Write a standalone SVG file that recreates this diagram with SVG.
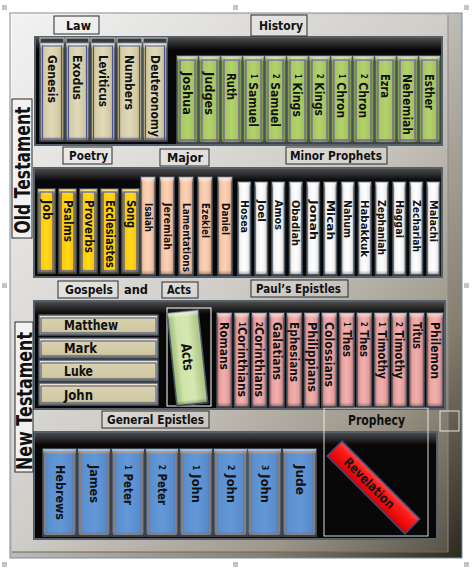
<svg xmlns="http://www.w3.org/2000/svg" width="475" height="571" viewBox="0 0 475 571">
<defs>
<linearGradient id="gFrame" x1="0" y1="0" x2="1" y2="1"><stop offset="0" stop-color="#fafafa"/><stop offset="0.45" stop-color="#c6c5c0"/><stop offset="0.78" stop-color="#867f70"/><stop offset="1" stop-color="#2c2920"/></linearGradient>
<linearGradient id="gPanel" x1="0" y1="0" x2="1" y2="1"><stop offset="0" stop-color="#f2f2f2"/><stop offset="0.5" stop-color="#cfcdc8"/><stop offset="0.8" stop-color="#9c9689"/><stop offset="1" stop-color="#5a5347"/></linearGradient>
<linearGradient id="gShelfTop" x1="0" y1="0" x2="0" y2="1"><stop offset="0" stop-color="#4a4a4a"/><stop offset="1" stop-color="#070707"/></linearGradient>
<linearGradient id="gTan" x1="0" y1="0" x2="1" y2="0"><stop offset="0" stop-color="#9d946f"/><stop offset="0.2" stop-color="#d6cea9"/><stop offset="0.5" stop-color="#e0d9b8"/><stop offset="0.8" stop-color="#d2c9a3"/><stop offset="1" stop-color="#9a906c"/></linearGradient>
<linearGradient id="gTanH" x1="0" y1="0" x2="0" y2="1"><stop offset="0" stop-color="#f2ebcc"/><stop offset="0.25" stop-color="#d8d0ac"/><stop offset="0.8" stop-color="#d0c8a2"/><stop offset="1" stop-color="#9a906c"/></linearGradient>
<linearGradient id="gGreen" x1="0" y1="0" x2="1" y2="0"><stop offset="0" stop-color="#6f8c38"/><stop offset="0.2" stop-color="#a6c85e"/><stop offset="0.5" stop-color="#b2d26c"/><stop offset="0.8" stop-color="#a3c45a"/><stop offset="1" stop-color="#6d8a36"/></linearGradient>
<linearGradient id="gYellow" x1="0" y1="0" x2="1" y2="0"><stop offset="0" stop-color="#b88a00"/><stop offset="0.2" stop-color="#ffcc00"/><stop offset="0.5" stop-color="#ffd820"/><stop offset="0.8" stop-color="#ffc800"/><stop offset="1" stop-color="#b08000"/></linearGradient>
<linearGradient id="gPeach" x1="0" y1="0" x2="1" y2="0"><stop offset="0" stop-color="#c89a80"/><stop offset="0.2" stop-color="#f6c6a6"/><stop offset="0.5" stop-color="#fbd2b6"/><stop offset="0.8" stop-color="#f4c2a2"/><stop offset="1" stop-color="#c09078"/></linearGradient>
<linearGradient id="gWhite" x1="0" y1="0" x2="1" y2="0"><stop offset="0" stop-color="#b8b8b8"/><stop offset="0.2" stop-color="#f4f4f4"/><stop offset="0.5" stop-color="#ffffff"/><stop offset="0.8" stop-color="#f0f0f0"/><stop offset="1" stop-color="#b0b0b0"/></linearGradient>
<linearGradient id="gPink" x1="0" y1="0" x2="1" y2="0"><stop offset="0" stop-color="#b06c6c"/><stop offset="0.2" stop-color="#e8a2a0"/><stop offset="0.5" stop-color="#f0b0ae"/><stop offset="0.8" stop-color="#e49c9a"/><stop offset="1" stop-color="#a86464"/></linearGradient>
<linearGradient id="gBlue" x1="0" y1="0" x2="1" y2="0"><stop offset="0" stop-color="#3d68a8"/><stop offset="0.15" stop-color="#5b90d0"/><stop offset="0.5" stop-color="#6398d8"/><stop offset="0.85" stop-color="#5a8ccc"/><stop offset="1" stop-color="#3c64a0"/></linearGradient>
<linearGradient id="gActs" x1="0" y1="0" x2="1" y2="0"><stop offset="0" stop-color="#9cb878"/><stop offset="0.25" stop-color="#cfe4a8"/><stop offset="0.6" stop-color="#d6e8b2"/><stop offset="1" stop-color="#a8c080"/></linearGradient>
<linearGradient id="gRed" x1="0" y1="0" x2="0" y2="1"><stop offset="0" stop-color="#ff4a4a"/><stop offset="0.3" stop-color="#ff1a1a"/><stop offset="1" stop-color="#d80000"/></linearGradient>
<linearGradient id="gOv" x1="0" y1="0" x2="0" y2="1"><stop offset="0" stop-color="#ffffff" stop-opacity="0.6"/><stop offset="0.06" stop-color="#ffffff" stop-opacity="0"/><stop offset="0.95" stop-color="#000000" stop-opacity="0"/><stop offset="1" stop-color="#000000" stop-opacity="0.35"/></linearGradient>
<style>
.t{font-family:"DejaVu Sans",Lato,sans-serif;font-weight:bold;fill:#111}
.c{text-anchor:middle;dominant-baseline:central}
.bt{text-anchor:start;dominant-baseline:central}
.lbl{fill:#ffffff;fill-opacity:0.18;stroke:#2a2a2a;stroke-width:1}
.shelf{fill:#070707;stroke:#56606a;stroke-width:2}
.bk{stroke:#4b5866;stroke-width:1.5}
.ov{fill:url(#gOv)}
.tan{fill:url(#gTan)}
.green{fill:url(#gGreen)}
.yel{fill:url(#gYellow)}
.peach{fill:url(#gPeach)}
.wht{fill:url(#gWhite)}
.pink{fill:url(#gPink)}
.blue{fill:url(#gBlue)}
.in{fill:none;stroke-width:1}
.inP{stroke:#6a40c8}
.inL{stroke:#50509a}
.inB{stroke:#2840d0}
.inO{stroke:#d0843a}
.tab{fill:#3a3a3a;stroke:#cfcfcf;stroke-width:1}
.hdl{fill:#c4c4c4}
</style>
</defs>

<g id="frame">
<rect x="10" y="13" width="452" height="545" fill="url(#gFrame)" stroke="#7f8da0" stroke-width="1"/>
<rect x="12" y="15" width="436" height="537" fill="url(#gPanel)"/>
<line x1="448" y1="15" x2="448" y2="552" stroke="#8a8880" stroke-width="1"/>
<line x1="12" y1="552" x2="448" y2="552" stroke="#6a665c" stroke-width="1"/>
</g>

<g id="handles">
<rect class="hdl" x="2" y="5" width="5" height="5"/><rect class="hdl" x="233" y="5" width="5" height="5"/><rect class="hdl" x="464" y="5" width="5" height="5"/>
<rect class="hdl" x="2" y="283" width="5" height="5"/><rect class="hdl" x="464" y="283" width="5" height="5"/>
<rect class="hdl" x="2" y="562" width="5" height="5"/><rect class="hdl" x="233" y="562" width="5" height="5"/><rect class="hdl" x="464" y="562" width="5" height="5"/>
</g>

<g id="shelves">
<rect class="shelf" x="35" y="37" width="407" height="108"/><rect x="36" y="38" width="405" height="12" fill="url(#gShelfTop)"/>
<rect class="shelf" x="34" y="168" width="408" height="109"/><rect x="35" y="169" width="406" height="12" fill="url(#gShelfTop)"/>
<rect class="shelf" x="34" y="301" width="411" height="108"/><rect x="35" y="302" width="409" height="12" fill="url(#gShelfTop)"/>
<rect class="shelf" x="34" y="432" width="403" height="107"/><rect x="35" y="433" width="401" height="12" fill="url(#gShelfTop)"/>
</g>

<g id="label-old-testament"><rect x="12" y="99" width="20" height="139" fill="#f2f2f2" stroke="#2a2a2a"/><text class="t c" transform="translate(23,170) rotate(-90)" font-size="21" textLength="127" lengthAdjust="spacingAndGlyphs">Old Testament</text></g>
<g id="label-new-testament"><rect x="15" y="322" width="18" height="150" fill="#f2f2f2" stroke="#2a2a2a"/><text class="t c" transform="translate(25,401) rotate(-90)" font-size="21" textLength="138" lengthAdjust="spacingAndGlyphs">New Testament</text></g>

<g id="label-law"><rect class="lbl" x="54" y="16" width="45" height="18"/><text class="t c" x="78.5" y="25" font-size="13" textLength="25" lengthAdjust="spacingAndGlyphs">Law</text></g>
<g id="label-history"><rect class="lbl" x="251" y="15" width="56" height="21"/><text class="t c" x="281" y="25.5" font-size="13" textLength="44" lengthAdjust="spacingAndGlyphs">History</text></g>
<g id="label-poetry"><rect class="lbl" x="63" y="147" width="49" height="17"/><text class="t c" x="88.5" y="155.5" font-size="13" textLength="39" lengthAdjust="spacingAndGlyphs">Poetry</text></g>
<g id="label-major"><rect class="lbl" x="160" y="149" width="49" height="17"/><text class="t c" x="185" y="157.5" font-size="13" textLength="36" lengthAdjust="spacingAndGlyphs">Major</text></g>
<g id="label-minor"><rect class="lbl" x="286" y="147" width="101" height="17"/><text class="t c" x="336" y="155.5" font-size="13" textLength="92" lengthAdjust="spacingAndGlyphs">Minor Prophets</text></g>
<g id="label-gospels"><rect class="lbl" x="58" y="281" width="60" height="17"/><text class="t c" x="89" y="289.5" font-size="13" textLength="48" lengthAdjust="spacingAndGlyphs">Gospels</text></g>
<g id="label-and"><text class="t c" x="136" y="289.5" font-size="13" textLength="24" lengthAdjust="spacingAndGlyphs">and</text></g>
<g id="label-acts"><rect class="lbl" x="162" y="282" width="36" height="16"/><text class="t c" x="179" y="289.5" font-size="13" textLength="24" lengthAdjust="spacingAndGlyphs">Acts</text></g>
<g id="label-pauls"><rect class="lbl" x="251" y="280" width="97" height="17"/><text class="t c" x="298.5" y="288.5" font-size="13" textLength="85" lengthAdjust="spacingAndGlyphs">Paul’s Epistles</text></g>
<g id="label-general"><rect class="lbl" x="102" y="411" width="107" height="17"/><text class="t c" x="155.5" y="419.5" font-size="13" textLength="97" lengthAdjust="spacingAndGlyphs">General Epistles</text></g>
<g id="label-prophecy"><rect x="324" y="408" width="104" height="128" fill="none" stroke="#f2f2f2" stroke-opacity="0.9" stroke-width="1"/><text class="t c" x="376.5" y="420" font-size="14" textLength="57" lengthAdjust="spacingAndGlyphs">Prophecy</text></g>
<g id="small-square"><rect x="440" y="411" width="19" height="20" fill="none" stroke="#e4e4e4" stroke-width="1"/></g>

<g id="law-books">
<g id="b-genesis"><rect class="tab" x="40" y="38" width="24" height="5"/><rect class="bk tan" x="40" y="43" width="24" height="98"/><rect class="ov" x="40" y="43" width="24" height="98"/><rect class="in inL" x="42.5" y="46" width="19" height="93"/><text class="t bt" transform="translate(52,55) rotate(90)" font-size="13" textLength="48" lengthAdjust="spacingAndGlyphs">Genesis</text></g>
<g id="b-exodus"><rect class="tab" x="66" y="38" width="23" height="5"/><rect class="bk tan" x="66" y="43" width="23" height="98"/><rect class="ov" x="66" y="43" width="23" height="98"/><rect class="in inL" x="68.5" y="46" width="18" height="93"/><text class="t bt" transform="translate(77.5,55) rotate(90)" font-size="13" textLength="45" lengthAdjust="spacingAndGlyphs">Exodus</text></g>
<g id="b-leviticus"><rect class="tab" x="91" y="38" width="24" height="5"/><rect class="bk tan" x="91" y="43" width="24" height="98"/><rect class="ov" x="91" y="43" width="24" height="98"/><rect class="in inL" x="93.5" y="46" width="19" height="93"/><text class="t bt" transform="translate(103,55) rotate(90)" font-size="13" textLength="52" lengthAdjust="spacingAndGlyphs">Leviticus</text></g>
<g id="b-numbers"><rect class="tab" x="117" y="38" width="25" height="5"/><rect class="bk tan" x="117" y="43" width="25" height="98"/><rect class="ov" x="117" y="43" width="25" height="98"/><rect class="in inL" x="119.5" y="46" width="20" height="93"/><text class="t bt" transform="translate(129.5,55) rotate(90)" font-size="13" textLength="55" lengthAdjust="spacingAndGlyphs">Numbers</text></g>
<g id="b-deuteronomy"><rect class="tab" x="143" y="38" width="24" height="5"/><rect class="bk tan" x="143" y="43" width="24" height="98"/><rect class="ov" x="143" y="43" width="24" height="98"/><rect class="in inL" x="145.5" y="46" width="19" height="93"/><text class="t bt" transform="translate(155,55) rotate(90)" font-size="13" textLength="82" lengthAdjust="spacingAndGlyphs">Deuteronomy</text></g>
</g>

<g id="history-books">
<g id="b-joshua"><rect class="bk green" x="177" y="56" width="21" height="87"/><rect class="ov" x="177" y="56" width="21" height="87"/><rect class="in inP" x="180" y="60" width="15" height="80"/><text class="t bt" transform="translate(187.5,72) rotate(90)" font-size="13" textLength="43" lengthAdjust="spacingAndGlyphs">Joshua</text></g>
<g id="b-judges"><rect class="bk green" x="199" y="56" width="21" height="87"/><rect class="ov" x="199" y="56" width="21" height="87"/><rect class="in inP" x="202" y="60" width="15" height="80"/><text class="t bt" transform="translate(209.5,72) rotate(90)" font-size="13" textLength="43" lengthAdjust="spacingAndGlyphs">Judges</text></g>
<g id="b-ruth"><rect class="bk green" x="221" y="56" width="21" height="87"/><rect class="ov" x="221" y="56" width="21" height="87"/><rect class="in inP" x="224" y="60" width="15" height="80"/><text class="t bt" transform="translate(231.5,73) rotate(90)" font-size="13" textLength="27" lengthAdjust="spacingAndGlyphs">Ruth</text></g>
<g id="b-1samuel"><rect class="bk green" x="243" y="56" width="21" height="87"/><rect class="ov" x="243" y="56" width="21" height="87"/><rect class="in inP" x="246" y="60" width="15" height="80"/><text class="t bt" transform="translate(253.5,74) rotate(90)" font-size="13" textLength="53" lengthAdjust="spacingAndGlyphs"><tspan font-size="8">1</tspan> Samuel</text></g>
<g id="b-2samuel"><rect class="bk green" x="265" y="56" width="21" height="87"/><rect class="ov" x="265" y="56" width="21" height="87"/><rect class="in inP" x="268" y="60" width="15" height="80"/><text class="t bt" transform="translate(275.5,74) rotate(90)" font-size="13" textLength="53" lengthAdjust="spacingAndGlyphs"><tspan font-size="8">2</tspan> Samuel</text></g>
<g id="b-1kings"><rect class="bk green" x="287" y="56" width="21" height="87"/><rect class="ov" x="287" y="56" width="21" height="87"/><rect class="in inP" x="290" y="60" width="15" height="80"/><text class="t bt" transform="translate(297.5,74) rotate(90)" font-size="13" textLength="43" lengthAdjust="spacingAndGlyphs"><tspan font-size="8">1</tspan> Kings</text></g>
<g id="b-2kings"><rect class="bk green" x="309" y="56" width="21" height="87"/><rect class="ov" x="309" y="56" width="21" height="87"/><rect class="in inP" x="312" y="60" width="15" height="80"/><text class="t bt" transform="translate(319.5,74) rotate(90)" font-size="13" textLength="42" lengthAdjust="spacingAndGlyphs"><tspan font-size="8">2</tspan> Kings</text></g>
<g id="b-1chron"><rect class="bk green" x="331" y="56" width="21" height="87"/><rect class="ov" x="331" y="56" width="21" height="87"/><rect class="in inP" x="334" y="60" width="15" height="80"/><text class="t bt" transform="translate(341.5,74) rotate(90)" font-size="13" textLength="44" lengthAdjust="spacingAndGlyphs"><tspan font-size="8">1</tspan> Chron</text></g>
<g id="b-2chron"><rect class="bk green" x="353" y="56" width="21" height="87"/><rect class="ov" x="353" y="56" width="21" height="87"/><rect class="in inP" x="356" y="60" width="15" height="80"/><text class="t bt" transform="translate(363.5,74) rotate(90)" font-size="13" textLength="44" lengthAdjust="spacingAndGlyphs"><tspan font-size="8">2</tspan> Chron</text></g>
<g id="b-ezra"><rect class="bk green" x="375" y="56" width="21" height="87"/><rect class="ov" x="375" y="56" width="21" height="87"/><rect class="in inP" x="378" y="60" width="15" height="80"/><text class="t bt" transform="translate(385.5,74) rotate(90)" font-size="13" textLength="24" lengthAdjust="spacingAndGlyphs">Ezra</text></g>
<g id="b-nehemiah"><rect class="bk green" x="397" y="56" width="21" height="87"/><rect class="ov" x="397" y="56" width="21" height="87"/><rect class="in inP" x="400" y="60" width="15" height="80"/><text class="t bt" transform="translate(407.5,74) rotate(90)" font-size="13" textLength="61" lengthAdjust="spacingAndGlyphs">Nehemiah</text></g>
<g id="b-esther"><rect class="bk green" x="419" y="56" width="21" height="87"/><rect class="ov" x="419" y="56" width="21" height="87"/><rect class="in inP" x="422" y="60" width="15" height="80"/><text class="t bt" transform="translate(429.5,74) rotate(90)" font-size="13" textLength="36" lengthAdjust="spacingAndGlyphs">Esther</text></g>
</g>

<g id="poetry-books">
<g id="b-job"><rect class="bk yel" x="38" y="189" width="17" height="84"/><rect class="ov" x="38" y="189" width="17" height="84"/><rect class="in inB" x="40" y="192" width="13" height="79"/><text class="t bt" transform="translate(46.5,200) rotate(90)" font-size="12" textLength="20" lengthAdjust="spacingAndGlyphs">Job</text></g>
<g id="b-psalms"><rect class="bk yel" x="59" y="189" width="17" height="84"/><rect class="ov" x="59" y="189" width="17" height="84"/><rect class="in inB" x="61" y="192" width="13" height="79"/><text class="t bt" transform="translate(67.5,200) rotate(90)" font-size="12" textLength="42" lengthAdjust="spacingAndGlyphs">Psalms</text></g>
<g id="b-proverbs"><rect class="bk yel" x="80" y="189" width="17" height="84"/><rect class="ov" x="80" y="189" width="17" height="84"/><rect class="in inB" x="82" y="192" width="13" height="79"/><text class="t bt" transform="translate(88.5,200) rotate(90)" font-size="12" textLength="53" lengthAdjust="spacingAndGlyphs">Proverbs</text></g>
<g id="b-ecclesiastes"><rect class="bk yel" x="101" y="189" width="17" height="84"/><rect class="ov" x="101" y="189" width="17" height="84"/><rect class="in inB" x="103" y="192" width="13" height="79"/><text class="t bt" transform="translate(109.5,200) rotate(90)" font-size="12" textLength="68" lengthAdjust="spacingAndGlyphs">Ecclesiastes</text></g>
<g id="b-song"><rect class="bk yel" x="122" y="189" width="17" height="84"/><rect class="ov" x="122" y="189" width="17" height="84"/><rect class="in inB" x="124" y="192" width="13" height="79"/><text class="t bt" transform="translate(130.5,200) rotate(90)" font-size="12" textLength="28" lengthAdjust="spacingAndGlyphs">Song</text></g>
</g>

<g id="major-books">
<g id="b-isaiah"><rect class="bk peach" x="141" y="177" width="14" height="98"/><rect class="ov" x="141" y="177" width="14" height="98"/><text class="t bt" transform="translate(148,203) rotate(90)" font-size="11" textLength="29" lengthAdjust="spacingAndGlyphs">Isaiah</text></g>
<g id="b-jeremiah"><rect class="bk peach" x="160" y="177" width="14" height="98"/><rect class="ov" x="160" y="177" width="14" height="98"/><text class="t bt" transform="translate(167,203) rotate(90)" font-size="11" textLength="47" lengthAdjust="spacingAndGlyphs">Jeremiah</text></g>
<g id="b-lamentations"><rect class="bk peach" x="179" y="177" width="14" height="98"/><rect class="ov" x="179" y="177" width="14" height="98"/><text class="t bt" transform="translate(186,203) rotate(90)" font-size="11" textLength="69" lengthAdjust="spacingAndGlyphs">Lamentations</text></g>
<g id="b-ezekiel"><rect class="bk peach" x="198" y="177" width="14" height="98"/><rect class="ov" x="198" y="177" width="14" height="98"/><text class="t bt" transform="translate(205,203) rotate(90)" font-size="11" textLength="35" lengthAdjust="spacingAndGlyphs">Ezekiel</text></g>
<g id="b-daniel"><rect class="bk peach" x="218" y="177" width="14" height="98"/><rect class="ov" x="218" y="177" width="14" height="98"/><text class="t bt" transform="translate(225,203) rotate(90)" font-size="11" textLength="32" lengthAdjust="spacingAndGlyphs">Daniel</text></g>
</g>

<g id="minor-books">
<g id="b-hosea"><rect class="bk wht" x="238" y="182" width="12.5" height="93"/><rect class="ov" x="238" y="182" width="12.5" height="93"/><text class="t bt" transform="translate(244.25,200) rotate(90)" font-size="11" textLength="33" lengthAdjust="spacingAndGlyphs">Hosea</text></g>
<g id="b-joel"><rect class="bk wht" x="255" y="182" width="12.5" height="93"/><rect class="ov" x="255" y="182" width="12.5" height="93"/><text class="t bt" transform="translate(261.25,200) rotate(90)" font-size="11" textLength="22" lengthAdjust="spacingAndGlyphs">Joel</text></g>
<g id="b-amos"><rect class="bk wht" x="272" y="182" width="12.5" height="93"/><rect class="ov" x="272" y="182" width="12.5" height="93"/><text class="t bt" transform="translate(278.25,200) rotate(90)" font-size="11" textLength="30" lengthAdjust="spacingAndGlyphs">Amos</text></g>
<g id="b-obadiah"><rect class="bk wht" x="289.5" y="182" width="12.5" height="93"/><rect class="ov" x="289.5" y="182" width="12.5" height="93"/><text class="t bt" transform="translate(295.75,200) rotate(90)" font-size="11" textLength="46" lengthAdjust="spacingAndGlyphs">Obadiah</text></g>
<g id="b-jonah"><rect class="bk wht" x="307" y="182" width="12.5" height="93"/><rect class="ov" x="307" y="182" width="12.5" height="93"/><text class="t bt" transform="translate(313.25,200) rotate(90)" font-size="11" textLength="40" lengthAdjust="spacingAndGlyphs">Jonah</text></g>
<g id="b-micah"><rect class="bk wht" x="324" y="182" width="12.5" height="93"/><rect class="ov" x="324" y="182" width="12.5" height="93"/><text class="t bt" transform="translate(330.25,200) rotate(90)" font-size="11" textLength="40" lengthAdjust="spacingAndGlyphs">Micah</text></g>
<g id="b-nahum"><rect class="bk wht" x="341.5" y="182" width="12.5" height="93"/><rect class="ov" x="341.5" y="182" width="12.5" height="93"/><text class="t bt" transform="translate(347.75,200) rotate(90)" font-size="11" textLength="38" lengthAdjust="spacingAndGlyphs">Nahum</text></g>
<g id="b-habakkuk"><rect class="bk wht" x="358.5" y="182" width="12.5" height="93"/><rect class="ov" x="358.5" y="182" width="12.5" height="93"/><text class="t bt" transform="translate(364.75,200) rotate(90)" font-size="11" textLength="57" lengthAdjust="spacingAndGlyphs">Habakkuk</text></g>
<g id="b-zephaniah"><rect class="bk wht" x="375.5" y="182" width="12.5" height="93"/><rect class="ov" x="375.5" y="182" width="12.5" height="93"/><text class="t bt" transform="translate(381.75,200) rotate(90)" font-size="11" textLength="55" lengthAdjust="spacingAndGlyphs">Zephaniah</text></g>
<g id="b-haggai"><rect class="bk wht" x="393" y="182" width="12.5" height="93"/><rect class="ov" x="393" y="182" width="12.5" height="93"/><text class="t bt" transform="translate(399.25,200) rotate(90)" font-size="11" textLength="38" lengthAdjust="spacingAndGlyphs">Haggai</text></g>
<g id="b-zechariah"><rect class="bk wht" x="410" y="182" width="12.5" height="93"/><rect class="ov" x="410" y="182" width="12.5" height="93"/><text class="t bt" transform="translate(416.25,200) rotate(90)" font-size="11" textLength="52" lengthAdjust="spacingAndGlyphs">Zechariah</text></g>
<g id="b-malachi"><rect class="bk wht" x="427" y="182" width="12.5" height="93"/><rect class="ov" x="427" y="182" width="12.5" height="93"/><text class="t bt" transform="translate(433.25,200) rotate(90)" font-size="11" textLength="42" lengthAdjust="spacingAndGlyphs">Malachi</text></g>
</g>

<g id="gospel-books">
<g id="b-matthew"><rect class="bk" fill="url(#gTanH)" x="39" y="315" width="119" height="20"/><rect class="in" stroke="#4a4a80" x="41" y="318" width="115" height="15"/><text class="t" x="64" y="329.5" font-size="14" textLength="54" lengthAdjust="spacingAndGlyphs">Matthew</text></g>
<g id="b-mark"><rect class="bk" fill="url(#gTanH)" x="39" y="338" width="119" height="20"/><rect class="in" stroke="#4a4a80" x="41" y="341" width="115" height="15"/><text class="t" x="64" y="353" font-size="14" textLength="33" lengthAdjust="spacingAndGlyphs">Mark</text></g>
<g id="b-luke"><rect class="bk" fill="url(#gTanH)" x="39" y="360" width="119" height="21"/><rect class="in" stroke="#4a4a80" x="41" y="363" width="115" height="16"/><text class="t" x="64" y="376" font-size="14" textLength="29" lengthAdjust="spacingAndGlyphs">Luke</text></g>
<g id="b-john"><rect class="bk" fill="url(#gTanH)" x="39" y="383" width="119" height="22"/><rect class="in" stroke="#4a4a80" x="41" y="386" width="115" height="17"/><text class="t" x="64" y="399.5" font-size="14" textLength="29" lengthAdjust="spacingAndGlyphs">John</text></g>
</g>

<g id="acts-book">
<rect x="167" y="308" width="44" height="98" fill="none" stroke="#ffffff" stroke-width="1"/>
<g transform="rotate(-6 187.5 358)"><rect x="172" y="311.5" width="31" height="93" fill="url(#gActs)" stroke="#4b5866" stroke-width="1.5"/><rect class="ov" x="172" y="311.5" width="31" height="93"/><text class="t c" transform="translate(187.5,357) rotate(90)" font-size="14" textLength="27" lengthAdjust="spacingAndGlyphs">Acts</text></g>
</g>

<g id="paul-books">
<g id="b-romans"><rect class="bk pink" x="217" y="313" width="14.5" height="94"/><rect class="ov" x="217" y="313" width="14.5" height="94"/><text class="t bt" transform="translate(224.25,322) rotate(90)" font-size="12" textLength="48" lengthAdjust="spacingAndGlyphs">Romans</text></g>
<g id="b-1corinthians"><rect class="bk pink" x="234.5" y="313" width="14.5" height="94"/><rect class="ov" x="234.5" y="313" width="14.5" height="94"/><text class="t bt" transform="translate(241.75,322) rotate(90)" font-size="12" textLength="75" lengthAdjust="spacingAndGlyphs"><tspan font-size="8">1</tspan>Corinthians</text></g>
<g id="b-2corinthians"><rect class="bk pink" x="252" y="313" width="14.5" height="94"/><rect class="ov" x="252" y="313" width="14.5" height="94"/><text class="t bt" transform="translate(259.25,322) rotate(90)" font-size="12" textLength="75" lengthAdjust="spacingAndGlyphs"><tspan font-size="8">2</tspan>Corinthians</text></g>
<g id="b-galatians"><rect class="bk pink" x="269.5" y="313" width="14.5" height="94"/><rect class="ov" x="269.5" y="313" width="14.5" height="94"/><text class="t bt" transform="translate(276.75,322) rotate(90)" font-size="12" textLength="58" lengthAdjust="spacingAndGlyphs">Galatians</text></g>
<g id="b-ephesians"><rect class="bk pink" x="287" y="313" width="14.5" height="94"/><rect class="ov" x="287" y="313" width="14.5" height="94"/><text class="t bt" transform="translate(294.25,322) rotate(90)" font-size="12" textLength="60" lengthAdjust="spacingAndGlyphs">Ephesians</text></g>
<g id="b-philippians"><rect class="bk pink" x="304.5" y="313" width="14.5" height="94"/><rect class="ov" x="304.5" y="313" width="14.5" height="94"/><text class="t bt" transform="translate(311.75,322) rotate(90)" font-size="12" textLength="70" lengthAdjust="spacingAndGlyphs">Philippians</text></g>
<g id="b-colossians"><rect class="bk pink" x="322" y="313" width="14.5" height="94"/><rect class="ov" x="322" y="313" width="14.5" height="94"/><text class="t bt" transform="translate(329.25,322) rotate(90)" font-size="12" textLength="65" lengthAdjust="spacingAndGlyphs">Colossians</text></g>
<g id="b-1thes"><rect class="bk pink" x="339.5" y="313" width="14.5" height="94"/><rect class="ov" x="339.5" y="313" width="14.5" height="94"/><text class="t bt" transform="translate(346.75,322) rotate(90)" font-size="12" textLength="35" lengthAdjust="spacingAndGlyphs"><tspan font-size="8">1</tspan> Thes</text></g>
<g id="b-2thes"><rect class="bk pink" x="357" y="313" width="14.5" height="94"/><rect class="ov" x="357" y="313" width="14.5" height="94"/><text class="t bt" transform="translate(364.25,322) rotate(90)" font-size="12" textLength="35" lengthAdjust="spacingAndGlyphs"><tspan font-size="8">2</tspan> Thes</text></g>
<g id="b-1timothy"><rect class="bk pink" x="374.5" y="313" width="14.5" height="94"/><rect class="ov" x="374.5" y="313" width="14.5" height="94"/><text class="t bt" transform="translate(381.75,322) rotate(90)" font-size="12" textLength="57" lengthAdjust="spacingAndGlyphs"><tspan font-size="8">1</tspan> Timothy</text></g>
<g id="b-2timothy"><rect class="bk pink" x="392" y="313" width="14.5" height="94"/><rect class="ov" x="392" y="313" width="14.5" height="94"/><text class="t bt" transform="translate(399.25,322) rotate(90)" font-size="12" textLength="57" lengthAdjust="spacingAndGlyphs"><tspan font-size="8">2</tspan> Timothy</text></g>
<g id="b-titus"><rect class="bk pink" x="409.5" y="313" width="14.5" height="94"/><rect class="ov" x="409.5" y="313" width="14.5" height="94"/><text class="t bt" transform="translate(416.75,322) rotate(90)" font-size="12" textLength="27" lengthAdjust="spacingAndGlyphs">Titus</text></g>
<g id="b-philemon"><rect class="bk pink" x="427" y="313" width="16" height="94"/><rect class="ov" x="427" y="313" width="16" height="94"/><text class="t bt" transform="translate(435,322) rotate(90)" font-size="12" textLength="57" lengthAdjust="spacingAndGlyphs">Philemon</text></g>
</g>

<g id="general-books">
<g id="b-hebrews"><rect class="bk blue" x="43" y="449" width="33" height="87"/><rect class="ov" x="43" y="449" width="33" height="87"/><rect class="in inO" x="45" y="452" width="29" height="82"/><text class="t bt" transform="translate(59.5,465) rotate(90)" font-size="12" textLength="55" lengthAdjust="spacingAndGlyphs">Hebrews</text></g>
<g id="b-james"><rect class="bk blue" x="78" y="449" width="32" height="87"/><rect class="ov" x="78" y="449" width="32" height="87"/><rect class="in inO" x="80" y="452" width="28" height="82"/><text class="t bt" transform="translate(94,465) rotate(90)" font-size="12" textLength="38" lengthAdjust="spacingAndGlyphs">James</text></g>
<g id="b-1peter"><rect class="bk blue" x="112" y="449" width="32" height="87"/><rect class="ov" x="112" y="449" width="32" height="87"/><rect class="in inO" x="114" y="452" width="28" height="82"/><text class="t bt" transform="translate(128,465) rotate(90)" font-size="12" textLength="40" lengthAdjust="spacingAndGlyphs"><tspan font-size="8">1</tspan> Peter</text></g>
<g id="b-2peter"><rect class="bk blue" x="146" y="449" width="32" height="87"/><rect class="ov" x="146" y="449" width="32" height="87"/><rect class="in inO" x="148" y="452" width="28" height="82"/><text class="t bt" transform="translate(162,465) rotate(90)" font-size="12" textLength="40" lengthAdjust="spacingAndGlyphs"><tspan font-size="8">2</tspan> Peter</text></g>
<g id="b-1john"><rect class="bk blue" x="180" y="449" width="32" height="87"/><rect class="ov" x="180" y="449" width="32" height="87"/><rect class="in inO" x="182" y="452" width="28" height="82"/><text class="t bt" transform="translate(196,465) rotate(90)" font-size="12" textLength="38" lengthAdjust="spacingAndGlyphs"><tspan font-size="8">1</tspan> John</text></g>
<g id="b-2john"><rect class="bk blue" x="214" y="449" width="33" height="87"/><rect class="ov" x="214" y="449" width="33" height="87"/><rect class="in inO" x="216" y="452" width="29" height="82"/><text class="t bt" transform="translate(230.5,465) rotate(90)" font-size="12" textLength="38" lengthAdjust="spacingAndGlyphs"><tspan font-size="8">2</tspan> John</text></g>
<g id="b-3john"><rect class="bk blue" x="248" y="449" width="33" height="87"/><rect class="ov" x="248" y="449" width="33" height="87"/><rect class="in inO" x="250" y="452" width="29" height="82"/><text class="t bt" transform="translate(264.5,465) rotate(90)" font-size="12" textLength="38" lengthAdjust="spacingAndGlyphs"><tspan font-size="8">3</tspan> John</text></g>
<g id="b-jude"><rect class="bk blue" x="283" y="449" width="33" height="87"/><rect class="ov" x="283" y="449" width="33" height="87"/><rect class="in inO" x="285" y="452" width="29" height="82"/><text class="t bt" transform="translate(299.5,465) rotate(90)" font-size="12" textLength="30" lengthAdjust="spacingAndGlyphs">Jude</text></g>
</g>

<g id="b-revelation" transform="rotate(45 373.5 487.5)">
<rect x="318.5" y="477" width="110" height="21" fill="url(#gRed)" stroke="#3e4a78" stroke-width="1.5"/>
<text class="t c" x="367.5" y="487.5" font-size="13" textLength="66" lengthAdjust="spacingAndGlyphs">Revelation</text>
</g>
</svg>
